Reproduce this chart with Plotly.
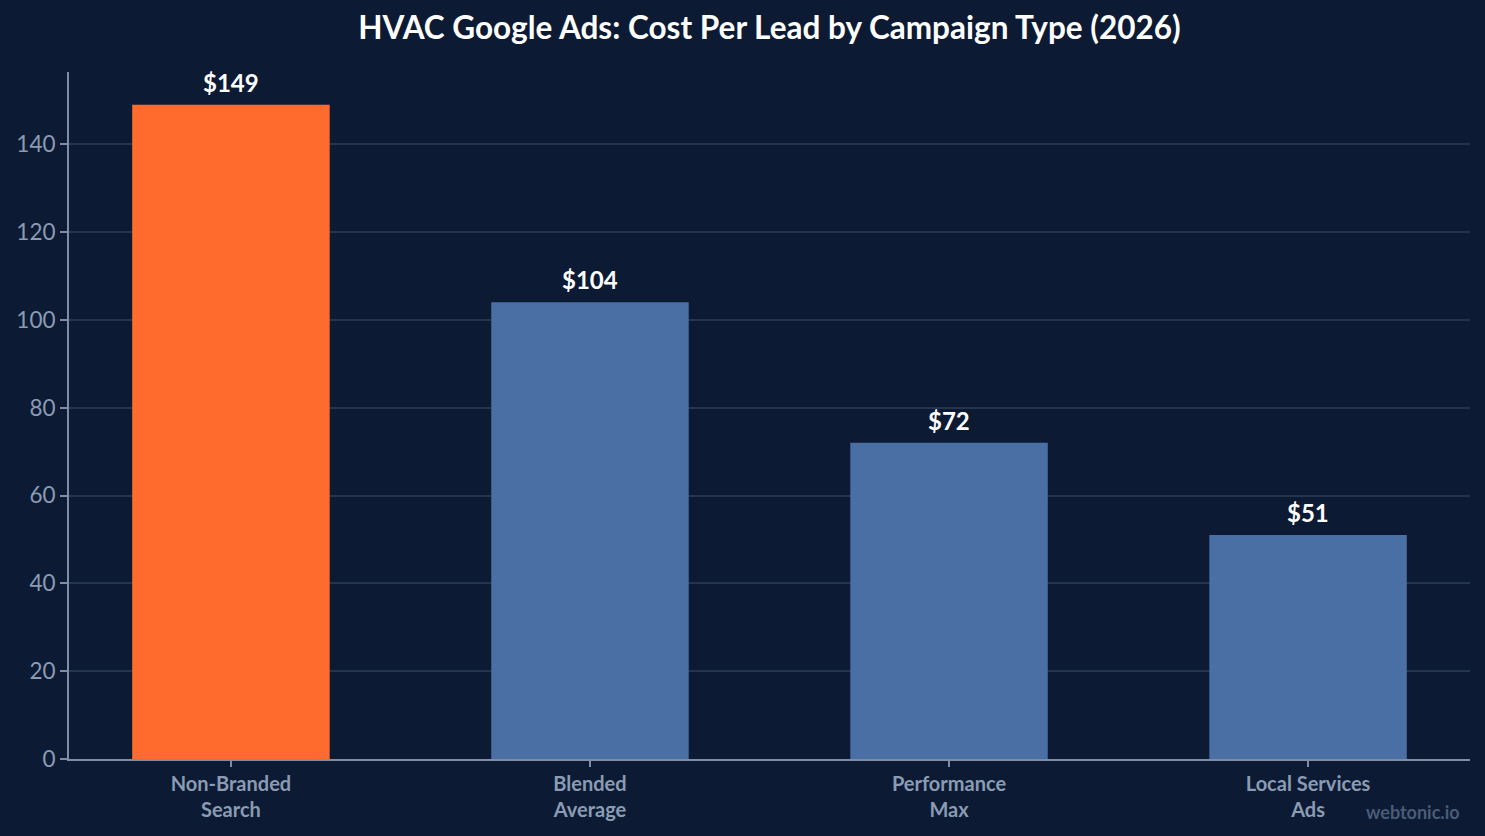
import plotly.graph_objects as go

categories = ["Non-Branded<br>Search", "Blended<br>Average", "Performance<br>Max", "Local Services<br>Ads"]
cost_per_lead = [149, 104, 72, 51]
labels = ["$149", "$104", "$72", "$51"]
bar_colors = ["#ff6b2c", "#4a6fa5", "#4a6fa5", "#4a6fa5"]

BG = "#0c1b33"
TICK = "#8a9bb3"
AXIS = "#7f8ea6"
GRID = "#26354f"

fig = go.Figure(go.Bar(
    x=categories,
    y=cost_per_lead,
    marker=dict(color=bar_colors, line=dict(width=0)),
    width=0.55,
))

annotations = [dict(x=c, y=v, text=t, xref="x", yref="y", showarrow=False,
                    yanchor="bottom", yshift=6,
                    font=dict(family="Lato", size=24, color="#ffffff", weight=700))
               for c, v, t in zip(categories, cost_per_lead, labels)]
annotations.append(dict(text="webtonic.io", xref="paper", yref="paper",
                        x=0.9943, y=-0.0771, xanchor="right", yanchor="middle", showarrow=False,
                        font=dict(family="Lato", size=18, color="#4a5b78", weight=700)))

fig.update_layout(
    width=1485, height=836,
    paper_bgcolor=BG, plot_bgcolor=BG,
    margin=dict(l=69, r=15, t=72, b=77),
    title=dict(text="<b>HVAC Google Ads: Cost Per Lead by Campaign Type (2026)</b>",
               xref="paper", x=0.5, xanchor="center", y=0.9665, yanchor="middle",
               font=dict(family="Lato", size=31.5, color="#ffffff")),
    font=dict(family="Lato", color=TICK),
    showlegend=False,
    xaxis=dict(range=[-0.451, 3.451], showline=True, linecolor=AXIS, linewidth=2,
               ticks="outside", ticklen=6, tickcolor=AXIS, tickwidth=2,
               tickfont=dict(family="Lato", size=20, color=TICK, weight=700),
               showgrid=False, zeroline=False),
    yaxis=dict(range=[0, 156.45], showline=True, linecolor=AXIS, linewidth=2,
               ticks="outside", ticklen=7, tickcolor=AXIS, tickwidth=2,
               tick0=0, dtick=20,
               tickfont=dict(family="Lato", size=22.5, color=TICK),
               showgrid=True, gridcolor=GRID, gridwidth=1.5, zeroline=False),
    annotations=annotations,
)

fig.write_html("out.html")
